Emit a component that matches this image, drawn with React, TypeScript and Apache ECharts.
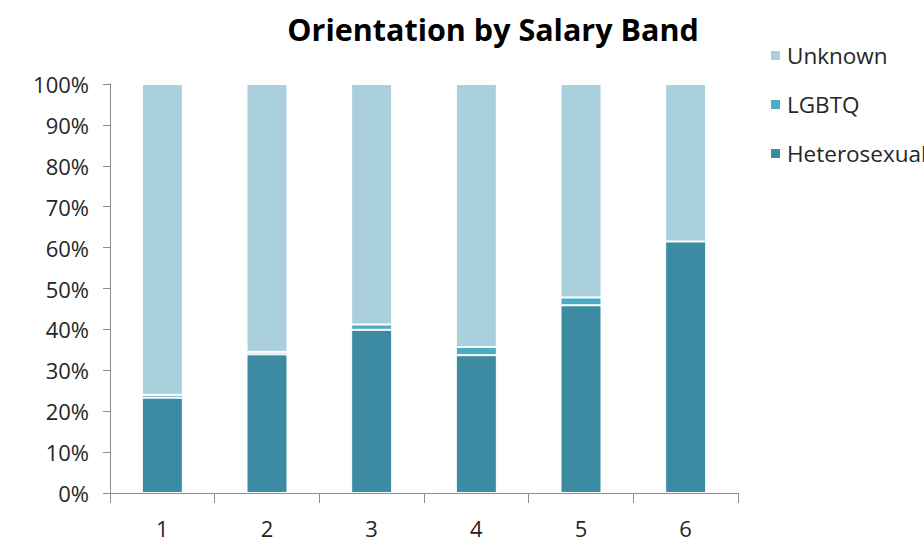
import React, { useEffect, useRef } from "react";
import * as echarts from "echarts";

const categories = ["1", "2", "3", "4", "5", "6"];
const heterosexual = [23.3, 33.9, 39.9, 33.7, 45.9, 61.5];
const lgbtq = [0.7, 0.6, 1.3, 2.0, 1.9, 0.0];
const unknown = [76.0, 65.5, 58.8, 64.3, 52.2, 38.5];
const yTicks = ["0%", "10%", "20%", "30%", "40%", "50%", "60%", "70%", "80%", "90%", "100%"];

const FONT = "Open Sans";

export default function App() {
  const ref = useRef<HTMLDivElement>(null);
  useEffect(() => {
    document.body.style.margin = "0";
    const chart = echarts.init(ref.current!, null, { renderer: "svg" });
    const bar = (name: string, data: number[], color: string) => ({
      name,
      type: "bar",
      stack: "total",
      data,
      barWidth: 41,
      itemStyle: { color, borderColor: "#ffffff", borderWidth: 1 },
    });
    chart.setOption({
      animation: false,
      backgroundColor: "#ffffff",
      title: {
        text: "Orientation by Salary Band",
        left: 488,
        top: 8,
        textAlign: "center",
        textStyle: { fontFamily: FONT, fontWeight: "bold", fontSize: 30.5, color: "#000000" },
      },
      legend: {
        orient: "vertical",
        left: 764,
        top: 39,
        itemWidth: 11,
        itemHeight: 11,
        itemGap: 26,
        icon: "rect",
        data: ["Unknown", "LGBTQ", "Heterosexual"],
        textStyle: { fontFamily: FONT, fontSize: 22.5, color: "#262626", padding: [0, 0, 0, 1] },
      },
      grid: { left: 110, right: 186, top: 84, bottom: 56 },
      xAxis: {
        type: "category",
        data: categories,
        boundaryGap: true,
        axisLine: { lineStyle: { color: "#8c8c8c", width: 1 } },
        axisTick: { show: true, length: 10, alignWithLabel: false, lineStyle: { color: "#8c8c8c" } },
        axisLabel: { fontFamily: FONT, fontSize: 22, color: "#262626", margin: 24 },
      },
      yAxis: {
        type: "value",
        min: 0,
        max: 100,
        interval: 10,
        splitLine: { show: false },
        axisLine: { show: true, lineStyle: { color: "#8c8c8c", width: 1 } },
        axisTick: { show: true, length: 7, lineStyle: { color: "#8c8c8c" } },
        axisLabel: {
          fontFamily: FONT,
          fontSize: 22,
          color: "#262626",
          margin: 21,
          formatter: (v: number) => yTicks[Math.round(v / 10)],
        },
      },
      series: [
        bar("Heterosexual", heterosexual, "#3C8BA2"),
        bar("LGBTQ", lgbtq, "#4BACC6"),
        bar("Unknown", unknown, "#AACFDD"),
      ],
    });
    return () => chart.dispose();
  }, []);
  return <div ref={ref} style={{ width: 924, height: 549 }} />;
}
